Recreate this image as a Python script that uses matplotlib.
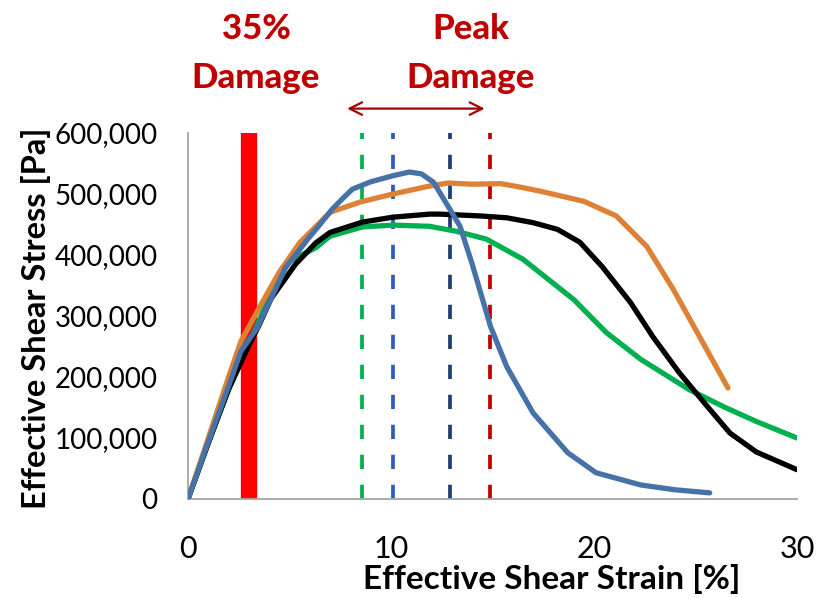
import matplotlib
matplotlib.use("Agg")
import matplotlib.pyplot as plt
from matplotlib.ticker import FuncFormatter

# strain [%] / stress [Pa] for the four tests
blue_x = [0, 1.0, 2.0, 2.6, 3.4, 4.0, 4.8, 5.9, 6.5, 7.1, 7.6, 8.1, 9.0, 10.1, 10.9,
          11.5, 12.1, 12.9, 13.4, 14.0, 14.9, 15.7, 17.0, 18.7, 20.1, 22.3, 24.0, 25.7]
blue_y = [0, 94e3, 185e3, 242e3, 280e3, 322e3, 379e3, 426e3, 450e3, 475e3, 492e3, 508e3,
          520e3, 530e3, 536e3, 533e3, 519e3, 475e3, 447e3, 385e3, 283e3, 217e3, 141e3,
          76e3, 43e3, 23e3, 15e3, 10e3]

orange_x = [0, 1.0, 2.0, 2.6, 3.5, 4.5, 5.5, 7.0, 8.5, 10.1, 11.9, 12.8, 14.0, 15.4,
            16.4, 17.3, 19.5, 21.1, 22.6, 23.9, 25.2, 26.6]
orange_y = [0, 100e3, 200e3, 258e3, 313e3, 372e3, 420e3, 470e3, 487e3, 500e3, 513e3,
            518e3, 516e3, 517e3, 511e3, 505e3, 488e3, 464e3, 414e3, 344e3, 266e3, 182e3]

black_x = [0, 1.0, 2.0, 3.0, 3.5, 4.1, 5.3, 6.3, 7.0, 8.6, 10.1, 11.9, 12.4, 14.4, 15.7,
           17.0, 18.2, 19.3, 20.4, 21.8, 22.9, 24.2, 25.6, 26.7, 28.0, 30.0]
black_y = [0, 92e3, 180e3, 252e3, 285e3, 329e3, 385e3, 420e3, 437e3, 454e3, 462e3, 467e3,
           467e3, 464e3, 461e3, 453e3, 442e3, 421e3, 381e3, 322e3, 266e3, 207e3, 151e3,
           108e3, 77e3, 48e3]

green_x = [0, 1.0, 2.0, 3.0, 3.5, 4.1, 5.0, 6.3, 7.0, 8.6, 10.1, 11.9, 13.2, 14.7, 16.5,
           19.0, 20.6, 22.3, 24.7, 26.4, 28.0, 30.0]
green_y = [0, 92e3, 180e3, 256e3, 292e3, 341e3, 390e3, 412e3, 431e3, 446e3, 449e3, 447e3,
           439e3, 426e3, 393e3, 327e3, 273e3, 229e3, 179e3, 151e3, 127e3, 100e3]

# 35% damage band and peak damage strains
damage35_x = [2.8, 3.2]
peak_x = [8.55, 10.1, 12.9, 14.9]
peak_colors = ["#00B050", "#2E5FB5", "#1F3F73", "#C00000"]

fig = plt.figure(figsize=(8.29, 5.98), dpi=100)
ax = fig.add_axes([0.2268, 0.1656, 0.7346, 0.612])

for xv in damage35_x:
    ax.plot([xv, xv], [0, 600000], color="#FF0000", lw=6, solid_capstyle="butt", zorder=1)

for xv, c in zip(peak_x, peak_colors):
    ax.plot([xv, xv], [0, 600000], color=c, lw=2.7, dashes=(3.8, 4.2), zorder=1)

lw = 3.8
ax.plot(green_x, green_y, color="#00B050", lw=lw, solid_joinstyle="round", solid_capstyle="round", zorder=3)
ax.plot(black_x, black_y, color="black", lw=lw, solid_joinstyle="round", solid_capstyle="round", zorder=3)
ax.plot(orange_x, orange_y, color="#DD8136", lw=lw, solid_joinstyle="round", solid_capstyle="round", zorder=4)
ax.plot(blue_x, blue_y, color="#4672A8", lw=lw, solid_joinstyle="round", solid_capstyle="round", zorder=5)

ax.set_xlim(0, 30)
ax.set_ylim(0, 600000)
ax.set_xticks([0, 10, 20, 30])
ax.set_yticks(range(0, 600001, 100000))
ax.yaxis.set_major_formatter(FuncFormatter(lambda v, p: f"{int(v):,}"))
ax.tick_params(length=0)
ax.tick_params(axis="x", pad=26, labelsize=22)
ax.tick_params(axis="y", pad=22, labelsize=20)
for lab in ax.get_xticklabels() + ax.get_yticklabels():
    lab.set_family("Lato")

for s in ["top", "right"]:
    ax.spines[s].set_visible(False)
for s in ["left", "bottom"]:
    ax.spines[s].set_color("#A6A6A6")
    ax.spines[s].set_linewidth(1.3)

fig.text(552 / 829, 1 - 579 / 598, "Effective Shear Strain [%]", ha="center", va="center",
         fontsize=24, fontweight="bold", family="Lato")
fig.text(36 / 829, 1 - 318 / 598, "Effective Shear Stress [Pa]", ha="center", va="center",
         rotation=90, fontsize=23.5, fontweight="bold", family="Lato")

# two-line headings, each line placed on its own baseline
title_font = dict(fontsize=25, fontweight="black", color="#C00000", ha="center",
                  va="baseline", family="Lato")
fig.text(256 / 829, 1 - 39 / 598, "35%", **title_font)
fig.text(256 / 829, 1 - 88 / 598, "Damage", **title_font)
fig.text(471 / 829, 1 - 39 / 598, "Peak", **title_font)
fig.text(471 / 829, 1 - 88 / 598, "Damage", **title_font)

# double arrow spanning the peak damage range
ax.annotate("", xy=(14.75, 640000), xytext=(7.7, 640000), xycoords="data",
            annotation_clip=False,
            arrowprops=dict(arrowstyle="<->,head_length=0.9,head_width=0.45",
                            color="#A50000", lw=1.6))

fig.savefig("out.png", dpi=100)
